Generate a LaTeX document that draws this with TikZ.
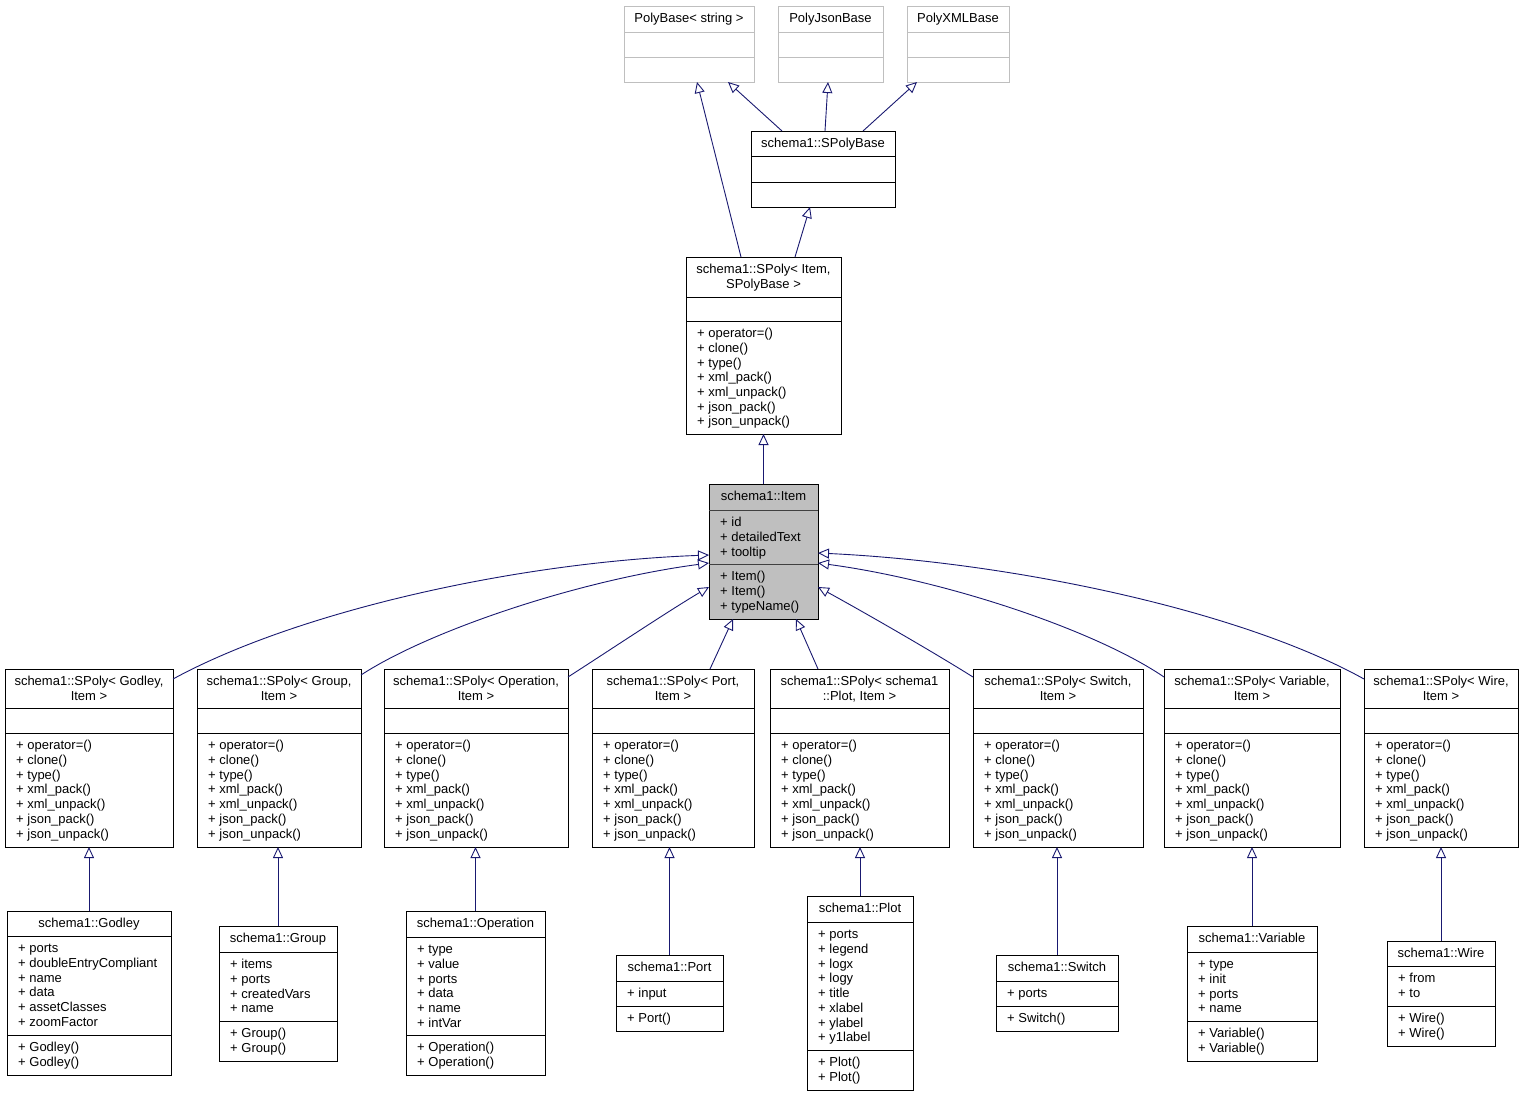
\documentclass[tikz,border=0pt]{standalone}
\usepackage{fontspec}
\setmainfont{Liberation Sans}
\usetikzlibrary{arrows.meta}
\definecolor{edgeblue}{HTML}{191970}
\definecolor{itemgray}{HTML}{BFBFBF}
\definecolor{framegray}{HTML}{BFBFBF}
\newcommand\umlfs{\fontsize{13}{14.67}\selectfont}
\tikzset{
  umlbox/.style={draw=black, line width=1pt, fill=white, inner sep=0pt, outer sep=0pt},
  umlbox-sep/.style={draw=black, line width=1pt},
  umlgrey/.style={draw=framegray, line width=1pt, fill=white, inner sep=0pt, outer sep=0pt},
  umlgrey-sep/.style={draw=framegray, line width=1pt},
  umlitem/.style={draw=black, line width=1pt, fill=itemgray, inner sep=0pt, outer sep=0pt},
  umlitem-sep/.style={draw=black!75, line width=1pt},
  titletext/.style={inner sep=0pt, align=center, font=\umlfs, text=black},
  listtext/.style={inner sep=0pt, align=left, font=\umlfs, text=black},
  inh/.style={draw=edgeblue, line width=0.9pt, -{Triangle[open, length=11pt, width=10pt]}},
}
% frame: [style]{name}{x1}{y1}{x2}{y2}{sep1}{sep2}
\newcommand\umlframe[8][umlbox]{%
  \def\bxl{#3}\def\bxt{#4}\def\bxr{#5}\def\bxb{#6}\def\bxsa{#7}\def\bxsb{#8}%
  \node[#1, minimum width={#5-#3}, minimum height={#6-#4}] (#2) at ({(#3+#5)/2},{(#4+#6)/2}) {};
  \draw[#1-sep] (#3,#7) -- (#5,#7);
  \draw[#1-sep] (#3,#8) -- (#5,#8);
}
% text: {name}{title}{attrs}{methods}
\newcommand\umltext[4]{%
  \node[titletext, anchor=north] (#1-t) at ({(\bxl+\bxr)/2},{\bxt+6.5}) {\strut #2};
  \if\relax\detokenize{#3}\relax\else
    \node[listtext, anchor=north west] (#1-a) at ({\bxl+11},{\bxsa+6.5}) {\strut #3};
  \fi
  \if\relax\detokenize{#4}\relax\else
    \node[listtext, anchor=north west] (#1-m) at ({\bxl+11},{\bxsb+6.5}) {\strut #4};
  \fi
}
\newcommand\spolymethods{+ operator=()\\+ clone()\\+ type()\\+ xml\_pack()\\+ xml\_unpack()\\+ json\_pack()\\+ json\_unpack()}
\begin{document}
\begin{tikzpicture}[x=1pt,y=-1pt]
\useasboundingbox (0,0) rectangle (1524,1096);

% top row
\umlframe[umlgrey]{pbs}{624}{6}{754}{82}{32}{57}
\umltext{pbs}{PolyBase< string >}{}{}
\umlframe[umlgrey]{pjs}{778}{6}{883}{82}{32}{57}
\umltext{pjs}{PolyJsonBase}{}{}
\umlframe[umlgrey]{pxml}{907}{6}{1009}{82}{32}{57}
\umltext{pxml}{PolyXMLBase}{}{}

\umlframe{spb}{751}{131}{895}{207}{156}{182}
\umltext{spb}{schema1::SPolyBase}{}{}

\umlframe{spi}{686}{257}{841}{434}{297}{321}
\umltext{spi}{schema1::SPoly< Item,\\SPolyBase >}{}{\spolymethods}

\umlframe[umlitem]{item}{709}{484}{818}{619}{510}{564}
\umltext{item}{schema1::Item}{+ id\\+ detailedText\\+ tooltip}{+ Item()\\+ Item()\\+ typeName()}

% SPoly row
\umlframe{spgod}{5}{669}{173}{847}{708}{733}
\umltext{spgod}{schema1::SPoly< Godley,\\Item >}{}{\spolymethods}
\umlframe{spgrp}{197}{669}{361}{847}{708}{733}
\umltext{spgrp}{schema1::SPoly< Group,\\Item >}{}{\spolymethods}
\umlframe{spop}{384}{669}{568}{847}{708}{733}
\umltext{spop}{schema1::SPoly< Operation,\\Item >}{}{\spolymethods}
\umlframe{spport}{592}{669}{754}{847}{708}{733}
\umltext{spport}{schema1::SPoly< Port,\\Item >}{}{\spolymethods}
\umlframe{spplot}{770}{669}{949}{847}{708}{733}
\umltext{spplot}{schema1::SPoly< schema1\\::Plot, Item >}{}{\spolymethods}
\umlframe{spsw}{973}{669}{1143}{847}{708}{733}
\umltext{spsw}{schema1::SPoly< Switch,\\Item >}{}{\spolymethods}
\umlframe{spvar}{1164}{669}{1340}{847}{708}{733}
\umltext{spvar}{schema1::SPoly< Variable,\\Item >}{}{\spolymethods}
\umlframe{spwire}{1364}{669}{1518}{847}{708}{733}
\umltext{spwire}{schema1::SPoly< Wire,\\Item >}{}{\spolymethods}

% bottom row
\umlframe{god}{7}{911}{171}{1075}{936}{1035}
\umltext{god}{schema1::Godley}{+ ports\\+ doubleEntryCompliant\\+ name\\+ data\\+ assetClasses\\+ zoomFactor}{+ Godley()\\+ Godley()}
\umlframe{grp}{219}{926}{337}{1061}{952}{1021}
\umltext{grp}{schema1::Group}{+ items\\+ ports\\+ createdVars\\+ name}{+ Group()\\+ Group()}
\umlframe{op}{406}{911}{545}{1075}{937}{1035}
\umltext{op}{schema1::Operation}{+ type\\+ value\\+ ports\\+ data\\+ name\\+ intVar}{+ Operation()\\+ Operation()}
\umlframe{port}{616}{955}{723}{1031}{981}{1006}
\umltext{port}{schema1::Port}{+ input}{+ Port()}
\umlframe{plot}{807}{896}{913}{1090}{922}{1050}
\umltext{plot}{schema1::Plot}{+ ports\\+ legend\\+ logx\\+ logy\\+ title\\+ xlabel\\+ ylabel\\+ y1label}{+ Plot()\\+ Plot()}
\umlframe{sw}{996}{955}{1118}{1031}{981}{1006}
\umltext{sw}{schema1::Switch}{+ ports}{+ Switch()}
\umlframe{var}{1187}{926}{1317}{1061}{952}{1021}
\umltext{var}{schema1::Variable}{+ type\\+ init\\+ ports\\+ name}{+ Variable()\\+ Variable()}
\umlframe{wire}{1387}{941}{1495}{1046}{966}{1006}
\umltext{wire}{schema1::Wire}{+ from\\+ to}{+ Wire()\\+ Wire()}

% edges, top
\draw[inh] ([xshift=-41pt]spb.north) -- ([xshift=39pt]pbs.south);
\draw[inh] ([xshift=2pt]spb.north) -- ([xshift=-2.5pt]pjs.south);
\draw[inh] ([xshift=40pt]spb.north) -- ([xshift=-41pt]pxml.south);
\draw[inh] ([xshift=-22.5pt]spi.north) -- ([xshift=8pt]pbs.south);
\draw[inh] ([xshift=31.5pt]spi.north) -- ([xshift=-13pt]spb.south);
\draw[inh] (item.north) -- (spi.south);

% edges into Item
\draw[inh] ([yshift=-10pt]spgod.north east) .. controls (300,610) and (520,562) .. ([yshift=-3.5pt]item.west);
\draw[inh] ([yshift=-6pt]spgrp.north east) .. controls (430,630) and (580,580) .. ([yshift=-11.5pt]item.west);
\draw[inh] ([yshift=-8pt]spop.north east) .. controls (610,650) and (670,610) .. ([yshift=-35.5pt]item.west);
\draw[inh] ([xshift=37pt]spport.north) -- ([xshift=-30.5pt]item.south);
\draw[inh] ([xshift=-41.5pt]spplot.north) -- ([xshift=32.5pt]item.south);
\draw[inh] ([yshift=-8pt]spsw.north west) .. controls (930,650) and (860,610) .. ([yshift=-35.5pt]item.east);
\draw[inh] ([yshift=-8pt]spvar.north west) .. controls (1095,630) and (945,580) .. ([yshift=-11.5pt]item.east);
\draw[inh] ([yshift=-10pt]spwire.north west) .. controls (1240,610) and (1010,562) .. ([yshift=-1.5pt]item.east);

% edges, bottom
\draw[inh] (god.north) -- (spgod.south);
\draw[inh] (grp.north) -- (grp.north |- spgrp.south);
\draw[inh] (op.north) -- (op.north |- spop.south);
\draw[inh] (port.north) -- (port.north |- spport.south);
\draw[inh] (plot.north) -- (plot.north |- spplot.south);
\draw[inh] (sw.north) -- (sw.north |- spsw.south);
\draw[inh] (var.north) -- (var.north |- spvar.south);
\draw[inh] (wire.north) -- (wire.north |- spwire.south);
\end{tikzpicture}
\end{document}
